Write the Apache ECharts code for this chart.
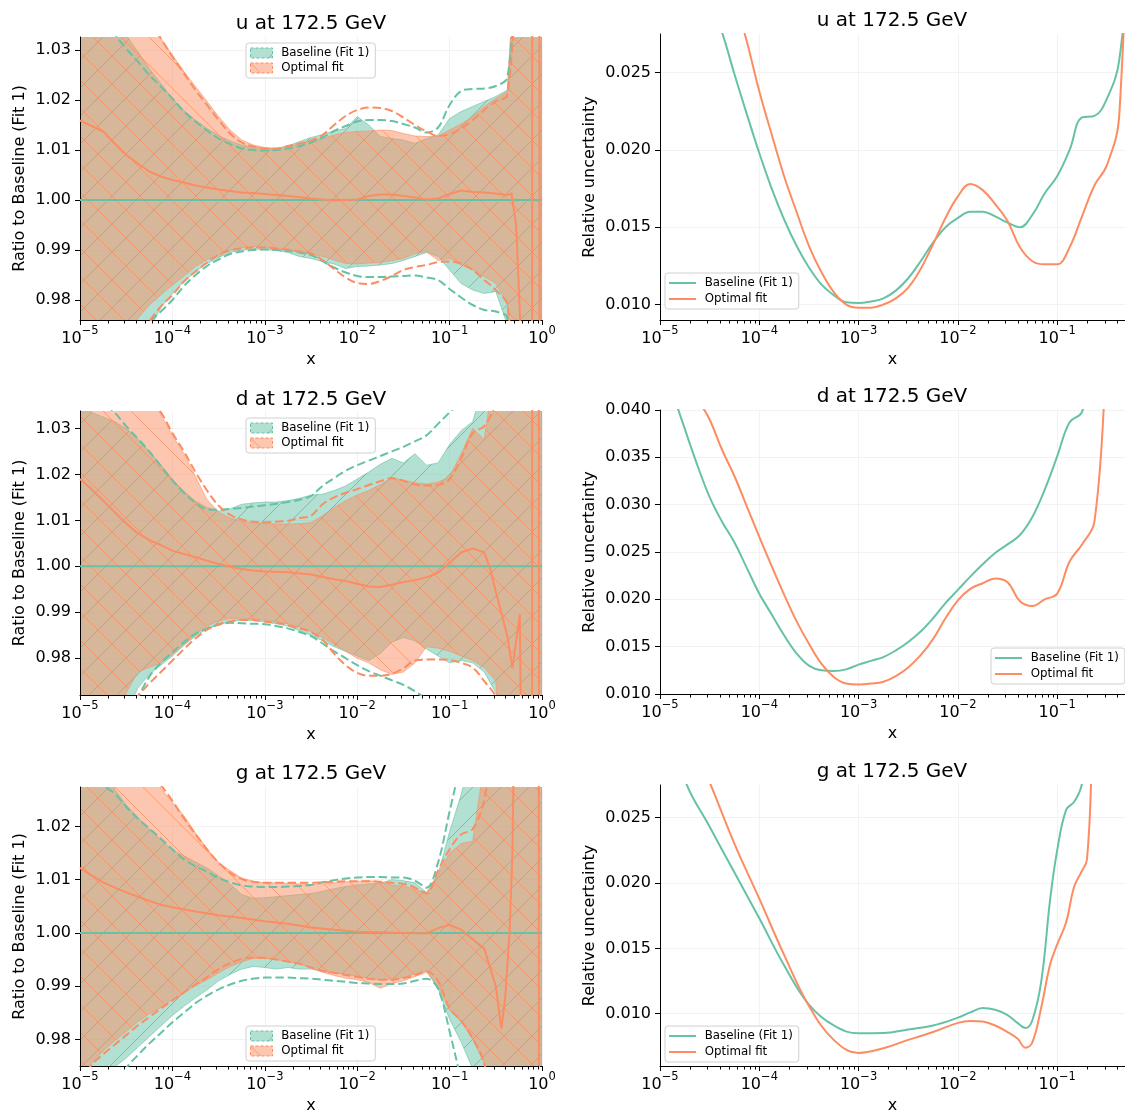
<!DOCTYPE html>
<html><head><meta charset="utf-8">
<script src="https://cdn.jsdelivr.net/npm/echarts@6/dist/echarts.min.js"></script>
<style>html,body{margin:0;padding:0;background:#fff}#c{width:1125px;height:1115px}</style>
</head><body><div id="c"></div>
<script>
// ---------- DATA (x given as log10(x)) ----------
const LX = [-5,-4.875,-4.75,-4.625,-4.5,-4.375,-4.25,-4.125,-4,-3.875,-3.75,-3.625,-3.5,-3.375,-3.25,-3.125,-3,-2.875,-2.75,-2.625,-2.5,-2.375,-2.25,-2.125,-2,-1.875,-1.75,-1.625,-1.5,-1.375,-1.25,-1.125,-1,-0.875,-0.75,-0.625,-0.5,-0.375,-0.25,-0.125,0];

// u : ratio to baseline
const U_B_HI = [1.06,1.06,1.05,1.04,1.033,1.0297,1.0263,1.0233,1.0203,1.0179,1.016,1.0143,1.0129,1.0118,1.011,1.0105,1.0103,1.0103,1.0108,1.0117,1.0125,1.0131,1.0138,1.0143,1.0167,1.015,1.0127,1.0123,1.012,1.0113,1.0123,1.013,1.0163,1.0177,1.0187,1.0197,1.0207,1.022,1.06,1.06,1.06];
const U_B_LO = [0.94,0.94,0.94,0.94,0.94,0.94,0.974,0.9785,0.9813,0.9837,0.9857,0.9873,0.9885,0.9895,0.99,0.9902,0.9901,0.9899,0.9895,0.9887,0.9883,0.9877,0.9872,0.9863,0.9867,0.9868,0.987,0.9873,0.9879,0.9887,0.9895,0.9887,0.986,0.9833,0.982,0.9813,0.9817,0.975,0.94,0.94,0.94];
const U_O_HI = [1.06,1.06,1.06,1.06,1.06,1.06,1.038,1.0323,1.029,1.0257,1.0227,1.0197,1.0167,1.014,1.012,1.011,1.0105,1.0103,1.0107,1.0112,1.0119,1.0123,1.013,1.0135,1.0137,1.0138,1.014,1.0139,1.0133,1.0128,1.0127,1.0128,1.014,1.0152,1.0167,1.0187,1.0203,1.0217,1.06,1.06,1.06];
const U_O_LO = [0.94,0.94,0.94,0.94,0.965,0.9763,0.979,0.981,0.983,0.9848,0.9867,0.9881,0.989,0.99,0.9905,0.9907,0.9905,0.9903,0.99,0.9897,0.9892,0.9887,0.988,0.9873,0.9872,0.9874,0.9875,0.9879,0.9883,0.9893,0.9897,0.9879,0.9883,0.987,0.986,0.9847,0.9833,0.9793,0.94,0.94,0.94];
const U_B_DHI = [1.05,1.046,1.041,1.0335,1.0303,1.0277,1.025,1.0227,1.0203,1.0177,1.0157,1.0139,1.0123,1.0112,1.0103,1.01,1.0099,1.01,1.0103,1.0108,1.0115,1.0125,1.0138,1.0148,1.0157,1.016,1.016,1.0158,1.0152,1.0145,1.0135,1.0145,1.019,1.0218,1.0222,1.0223,1.0228,1.0245,1.05,1.06,1.06];
const U_B_DLO = [0.95,0.955,0.96,0.965,0.968,0.972,0.9755,0.9777,0.98,0.9828,0.985,0.9868,0.9881,0.9892,0.9897,0.99,0.9901,0.99,0.9898,0.9895,0.989,0.9878,0.9865,0.9855,0.9848,0.9846,0.9846,0.9847,0.9848,0.9849,0.9845,0.984,0.9822,0.9805,0.979,0.978,0.9777,0.9765,0.95,0.94,0.94];
const U_O_DHI = [1.05,1.05,1.05,1.05,1.05,1.04,1.036,1.0323,1.0287,1.0253,1.022,1.019,1.016,1.0133,1.0115,1.0107,1.0103,1.0103,1.0108,1.0113,1.0119,1.013,1.015,1.0168,1.018,1.0185,1.0184,1.0178,1.0165,1.015,1.0137,1.0128,1.0132,1.0143,1.016,1.018,1.0197,1.021,1.05,1.06,1.06];
const U_O_DLO = [0.95,0.955,0.96,0.965,0.968,0.972,0.9757,0.9787,0.981,0.9837,0.9857,0.9875,0.989,0.9899,0.9903,0.9905,0.9905,0.9903,0.9901,0.9897,0.9893,0.988,0.9862,0.9845,0.9834,0.9832,0.9838,0.9848,0.986,0.9866,0.987,0.9876,0.9877,0.9873,0.986,0.984,0.982,0.979,0.95,0.94,0.94];
const U_C_X = [-5,-4.875,-4.75,-4.625,-4.5,-4.375,-4.25,-4.125,-4,-3.875,-3.75,-3.625,-3.5,-3.375,-3.25,-3.125,-3,-2.75,-2.5,-2.25,-2,-1.875,-1.75,-1.625,-1.5,-1.375,-1.25,-1.125,-1,-0.875,-0.75,-0.625,-0.5,-0.375,-0.33,-0.28,-0.2,-0.107,-0.105,-0.028,-0.026,0];
const U_C_Y = [1.0159,1.0148,1.0137,1.0113,1.009,1.0073,1.0057,1.0047,1.004,1.0035,1.0029,1.0025,1.0021,1.0018,1.0015,1.0014,1.0012,1.0008,1.0003,0.9999,1.0001,1.0008,1.0011,1.0011,1.0008,1.0005,1.0001,1.0003,1.0012,1.0019,1.0016,1.0015,1.0013,1.001,1.0013,0.995,0.96,0.96,1.06,1.06,0.96,0.96];

// d : ratio to baseline
const D_B_HI = [1.038,1.0335,1.0325,1.0315,1.03,1.0277,1.025,1.0221,1.019,1.0163,1.0142,1.0128,1.012,1.0125,1.0135,1.0138,1.014,1.014,1.0143,1.0148,1.0155,1.0157,1.0165,1.0175,1.019,1.0205,1.0222,1.0235,1.0225,1.0245,1.022,1.0225,1.0265,1.0295,1.0315,1.04,1.06,1.06,1.06,1.06,1.06];
const D_B_LO = [0.94,0.94,0.94,0.94,0.968,0.9735,0.9765,0.9785,0.9805,0.9828,0.9848,0.9864,0.9873,0.988,0.9883,0.9882,0.9879,0.9875,0.987,0.986,0.985,0.9838,0.9825,0.9815,0.9805,0.9795,0.981,0.9835,0.9845,0.9838,0.982,0.9805,0.979,0.9795,0.979,0.977,0.9725,0.95,0.94,0.94,0.94];
const D_O_HI = [1.06,1.06,1.06,1.06,1.06,1.06,1.04,1.033,1.0285,1.0245,1.0195,1.0145,1.0118,1.0105,1.0098,1.0095,1.0093,1.0092,1.0092,1.0093,1.0095,1.011,1.0128,1.0143,1.0155,1.0165,1.0178,1.0192,1.0188,1.0182,1.0179,1.0183,1.0195,1.0245,1.03,1.0276,1.045,1.06,1.06,1.06,1.06];
const D_O_LO = [0.94,0.94,0.94,0.94,0.9725,0.977,0.978,0.979,0.9808,0.983,0.9852,0.987,0.9881,0.9887,0.9885,0.9886,0.9883,0.988,0.9875,0.9868,0.9858,0.9845,0.983,0.9815,0.98,0.979,0.9775,0.9765,0.977,0.979,0.9825,0.9822,0.9815,0.9805,0.9795,0.978,0.975,0.94,0.94,0.94,0.94];
const D_B_DHI = [1.05,1.045,1.036,1.0335,1.0305,1.0278,1.025,1.0218,1.0187,1.016,1.0138,1.0124,1.0123,1.0125,1.0127,1.013,1.0133,1.0136,1.014,1.0145,1.0153,1.0175,1.0192,1.0208,1.022,1.023,1.024,1.025,1.026,1.0272,1.0285,1.031,1.0335,1.036,1.04,1.06,1.06,1.06,1.06,1.06,1.06];
const D_B_DLO = [0.95,0.955,0.96,0.965,0.968,0.9715,0.976,0.979,0.9813,0.9835,0.9853,0.9865,0.9873,0.9877,0.9876,0.9875,0.9874,0.987,0.9865,0.9857,0.9848,0.9832,0.9815,0.98,0.9785,0.9772,0.9762,0.9752,0.9742,0.9728,0.971,0.968,0.965,0.96,0.955,0.95,0.95,0.95,0.95,0.95,0.95];
const D_O_DHI = [1.06,1.06,1.06,1.06,1.06,1.06,1.036,1.0335,1.029,1.025,1.0205,1.0165,1.0132,1.0112,1.0102,1.0097,1.0096,1.0097,1.0099,1.0105,1.011,1.0135,1.015,1.016,1.0168,1.0177,1.0185,1.0192,1.0186,1.0178,1.0176,1.0177,1.019,1.0235,1.029,1.0305,1.036,1.06,1.06,1.06,1.06];
const D_O_DLO = [0.95,0.955,0.96,0.965,0.968,0.9718,0.9745,0.977,0.9795,0.982,0.9843,0.9862,0.9874,0.988,0.9883,0.9883,0.988,0.9877,0.9872,0.9865,0.9857,0.984,0.981,0.9785,0.9768,0.9762,0.9762,0.9766,0.9778,0.9795,0.9797,0.9797,0.9796,0.979,0.978,0.975,0.9715,0.96,0.95,0.95,0.95];
const D_C_X = [-5,-4.875,-4.75,-4.625,-4.5,-4.375,-4.25,-4.125,-4,-3.875,-3.75,-3.625,-3.5,-3.375,-3.25,-3.125,-3,-2.75,-2.5,-2.375,-2.25,-2.125,-2,-1.875,-1.75,-1.625,-1.5,-1.375,-1.25,-1.125,-1,-0.875,-0.75,-0.625,-0.56,-0.5,-0.375,-0.32,-0.24,-0.225,-0.107,-0.105,-0.035,-0.033,0];
const D_C_Y = [1.019,1.0168,1.0143,1.0118,1.0093,1.0072,1.0057,1.0046,1.0034,1.0027,1.002,1.0012,1.0005,0.9999,0.9994,0.9991,0.9989,0.9987,0.9982,0.9977,0.9972,0.9968,0.9962,0.9956,0.9955,0.996,0.9966,0.997,0.9976,0.9986,1.0008,1.003,1.0039,1.003,0.9995,0.9945,0.9848,0.9778,0.9896,0.96,0.96,1.06,1.06,0.96,0.96];

// g : ratio to baseline
const G_B_HI = [1.045,1.04,1.033,1.027,1.024,1.0217,1.0195,1.0175,1.0155,1.0145,1.0133,1.0122,1.0107,1.0092,1.0072,1.0065,1.0066,1.0068,1.007,1.0072,1.0074,1.0078,1.0083,1.0087,1.009,1.0092,1.0093,1.01,1.0098,1.0094,1.0076,1.011,1.019,1.026,1.035,1.06,1.06,1.06,1.06,1.06,1.06];
const G_B_LO = [0.94,0.94,0.94,0.9748,0.9765,0.9785,0.9805,0.9825,0.9845,0.9862,0.9878,0.9893,0.991,0.9922,0.9932,0.9937,0.9935,0.9932,0.9935,0.9932,0.9932,0.9928,0.9925,0.9922,0.9919,0.9914,0.9912,0.9913,0.9916,0.9923,0.9929,0.9895,0.9838,0.9795,0.9745,0.96,0.94,0.94,0.94,0.94,0.94];
const G_O_HI = [1.06,1.06,1.06,1.06,1.06,1.06,1.031,1.0272,1.0245,1.022,1.0188,1.0158,1.0132,1.0117,1.0103,1.0097,1.0094,1.0094,1.0093,1.0092,1.0091,1.0092,1.0094,1.0096,1.0097,1.0098,1.0096,1.009,1.0088,1.0082,1.0074,1.011,1.015,1.0168,1.0172,1.032,1.06,1.06,1.06,1.06,1.06];
const G_O_LO = [0.965,0.9755,0.9778,0.9797,0.9815,0.9833,0.9848,0.986,0.9875,0.9888,0.9901,0.9912,0.9925,0.9937,0.9946,0.9952,0.9952,0.995,0.9946,0.9942,0.9934,0.9926,0.992,0.9915,0.9912,0.9907,0.9896,0.9905,0.991,0.9918,0.9926,0.99,0.9855,0.9833,0.98,0.9755,0.94,0.94,0.94,0.94,0.94];
const G_B_DHI = [1.045,1.036,1.028,1.0262,1.0237,1.0215,1.0196,1.0177,1.0157,1.0138,1.0125,1.0115,1.0103,1.0095,1.0089,1.0087,1.0086,1.0086,1.0087,1.0088,1.009,1.0095,1.0099,1.0102,1.0104,1.0105,1.0105,1.0104,1.0104,1.0098,1.0085,1.0132,1.0228,1.032,1.04,1.06,1.06,1.06,1.06,1.06,1.06];
const G_B_DLO = [0.95,0.955,0.96,0.968,0.9745,0.977,0.9792,0.9812,0.9832,0.985,0.9868,0.9882,0.9894,0.9903,0.991,0.9914,0.9916,0.9916,0.9916,0.9915,0.9914,0.9912,0.991,0.9908,0.9906,0.9905,0.9904,0.9904,0.9905,0.991,0.9914,0.9895,0.9815,0.972,0.96,0.95,0.95,0.95,0.95,0.95,0.95];
const G_O_DHI = [1.06,1.06,1.06,1.06,1.06,1.06,1.031,1.0278,1.0248,1.0215,1.0185,1.0157,1.0132,1.0113,1.0101,1.0096,1.0094,1.0094,1.0094,1.0094,1.0094,1.0095,1.0096,1.0097,1.0097,1.0097,1.0096,1.0094,1.0092,1.0085,1.0074,1.0117,1.0157,1.0185,1.0195,1.025,1.04,1.06,1.06,1.06,1.06];
const G_O_DLO = [0.972,0.9752,0.9772,0.979,0.9808,0.9826,0.9842,0.9858,0.9873,0.9888,0.9903,0.9917,0.9932,0.9943,0.9951,0.9954,0.9953,0.995,0.9946,0.9942,0.9935,0.9929,0.9925,0.9921,0.9917,0.9914,0.9912,0.9912,0.9915,0.992,0.9928,0.991,0.9858,0.9835,0.9802,0.9755,0.965,0.95,0.95,0.95,0.95];
const G_C_X = [-5,-4.875,-4.75,-4.625,-4.5,-4.375,-4.25,-4.125,-4,-3.75,-3.5,-3.25,-3,-2.75,-2.5,-2.25,-2,-1.75,-1.5,-1.25,-1.125,-1,-0.875,-0.75,-0.625,-0.5,-0.44,-0.4,-0.35,-0.32,-0.3,-0.035,-0.033,0];
const G_C_Y = [1.0122,1.0108,1.0095,1.0085,1.0076,1.0068,1.006,1.0053,1.0048,1.004,1.0033,1.0028,1.0022,1.0017,1.001,1.0006,1.0002,1.0001,1.0,0.9999,1.0009,1.0015,1.0006,0.9988,0.997,0.99,0.982,0.9875,1.0005,1.015,1.04,1.04,0.96,0.96];

// relative uncertainty
const RX = [-5,-4.875,-4.75,-4.625,-4.5,-4.375,-4.25,-4.125,-4,-3.875,-3.75,-3.625,-3.5,-3.375,-3.25,-3.125,-3,-2.875,-2.75,-2.625,-2.5,-2.375,-2.25,-2.125,-2,-1.875,-1.75,-1.625,-1.5,-1.375,-1.25,-1.125,-1,-0.875,-0.75,-0.625,-0.5,-0.375,-0.25];
const UR_B = [0.040,0.037,0.0345,0.032,0.0297,0.0276,0.0249,0.0223,0.0198,0.0175,0.0155,0.0138,0.0124,0.0113,0.0106,0.01015,0.0101,0.0102,0.0104,0.0109,0.0117,0.0128,0.0140,0.0150,0.0156,0.0160,0.0160,0.0157,0.0153,0.0150,0.0158,0.0172,0.0183,0.0200,0.0221,0.0222,0.0233,0.0258,0.035];
const UR_O = [0.045,0.042,0.0395,0.0368,0.0345,0.0322,0.0298,0.0270,0.0238,0.0210,0.0183,0.0160,0.0138,0.0121,0.0108,0.0100,0.0098,0.0098,0.0100,0.0104,0.0111,0.0123,0.0139,0.0156,0.0170,0.0178,0.0174,0.0165,0.0154,0.0137,0.0128,0.0126,0.0126,0.0137,0.0157,0.0177,0.0190,0.0222,0.045];
const DR_B = [0.047,0.042,0.038,0.0342,0.0308,0.0282,0.026,0.0233,0.0206,0.0184,0.0162,0.0143,0.013,0.0125,0.01243,0.0126,0.0131,0.0135,0.0139,0.0146,0.0155,0.0166,0.018,0.0196,0.021,0.0224,0.0237,0.0249,0.0258,0.0268,0.0287,0.0316,0.0351,0.0387,0.0398,0.046,0.06,0.07,0.08];
const DR_O = [0.058,0.052,0.047,0.0415,0.039,0.0358,0.033,0.0298,0.0266,0.0235,0.0205,0.0177,0.0153,0.0132,0.0118,0.0111,0.011,0.0111,0.0113,0.0119,0.0128,0.0141,0.0158,0.018,0.0199,0.0211,0.0217,0.0222,0.0218,0.0198,0.0193,0.02,0.0206,0.024,0.0258,0.0282,0.045,0.06,0.08];
const GR_X = [-5,-4.75,-4.5,-4.25,-4,-3.75,-3.5,-3.25,-3,-2.75,-2.5,-2.25,-2,-1.875,-1.75,-1.625,-1.5,-1.4,-1.32,-1.25,-1.16,-1.07,-1,-0.91,-0.83,-0.76,-0.7,-0.65,-0.6];
const GR_B = [0.035,0.0279,0.0243,0.0208,0.0173,0.0137,0.0107,0.0091,0.0085,0.00852,0.0088,0.0091,0.0097,0.0101,0.01043,0.0103,0.0099,0.0093,0.0089,0.0095,0.0125,0.0188,0.0225,0.0256,0.0262,0.0273,0.030,0.034,0.04];
const GR_O = [0.040,0.032,0.0277,0.023,0.0188,0.0145,0.0106,0.008,0.007,0.00736,0.008,0.0086,0.0093,0.00945,0.0094,0.0091,0.0086,0.0081,0.0074,0.0078,0.0105,0.0138,0.0153,0.017,0.0197,0.0208,0.0218,0.030,0.045];

const TITLES = ['u at 172.5 GeV', 'd at 172.5 GeV', 'g at 172.5 GeV'];
const NAME_B = 'Baseline (Fit 1)', NAME_O = 'Optimal fit';
const LEFT_TICKS = [[0.98,0.99,1.00,1.01,1.02,1.03],[0.98,0.99,1.00,1.01,1.02,1.03],[0.98,0.99,1.00,1.01,1.02]];
const RIGHT_TICKS = [[0.010,0.015,0.020,0.025],[0.010,0.015,0.020,0.025,0.030,0.035,0.040],[0.010,0.015,0.020,0.025]];
const X_TICKS_L = [1e-5,1e-4,1e-3,1e-2,1e-1,1];
const X_TICKS_R = [1e-5,1e-4,1e-3,1e-2,1e-1];

// ---------- STYLE / LAYOUT ----------
const TEAL = '#66c2a5', ORANGE = '#fc8d62', FONT = 'DejaVu Sans';
const LAYOUT = [
  {left: 80, top: 37, width: 462, height: 283, ymin: 0.976, ymax: 1.0326, xmax: 1},
  {left: 660, top: 34, width: 465, height: 286, ymin: 0.009, ymax: 0.0275, xmax: 0.482},
  {left: 80, top: 411, width: 462, height: 284, ymin: 0.972, ymax: 1.0338, xmax: 1},
  {left: 660, top: 410, width: 465, height: 284, ymin: 0.010, ymax: 0.040, xmax: 0.482},
  {left: 80, top: 787, width: 462, height: 283, ymin: 0.975, ymax: 1.0274, xmax: 1},
  {left: 660, top: 785, width: 465, height: 285, ymin: 0.006, ymax: 0.0275, xmax: 0.482}
];
const TITLE_POS = [[311, 14], [892, 11], [311, 390], [892, 387], [311, 764], [892, 762]];
const LEGEND_POS = [[246, 43], [665, 273], [246, 418], [991, 648], [246, 1026], [665, 1026]];

function hatch(fill, line, dir) {
  const S = 28, c = document.createElement('canvas');
  c.width = S; c.height = S;
  const g = c.getContext('2d');
  g.fillStyle = fill; g.fillRect(0, 0, S, S);
  g.strokeStyle = line; g.lineWidth = 1;
  g.beginPath();
  if (dir === '/') {
    g.moveTo(-2, S + 2); g.lineTo(S + 2, -2);
    g.moveTo(-2, 2); g.lineTo(2, -2);
    g.moveTo(S - 2, S + 2); g.lineTo(S + 2, S - 2);
  } else {
    g.moveTo(-2, -2); g.lineTo(S + 2, S + 2);
    g.moveTo(S - 2, -2); g.lineTo(S + 2, 2);
    g.moveTo(-2, S - 2); g.lineTo(2, S + 2);
  }
  g.stroke();
  return {image: c, repeat: 'repeat'};
}
const B_FILL = hatch('rgba(102,194,165,0.5)', 'rgba(80,160,135,0.55)', '/');
const O_FILL = hatch('rgba(252,141,98,0.5)', 'rgba(252,141,98,0.75)', '\\');

const pw = v => Math.pow(10, v);
const xy = (xs, ys) => xs.map((lx, i) => [pw(lx), ys[i]]);

function band(name, g, lo, hi, fill, stroke, z) {
  const data = LX.map((lx, i) => [pw(lx), lo[i], hi[i]]);
  return {
    type: 'custom', name, xAxisIndex: g, yAxisIndex: g, z, silent: true, clip: true,
    data, encode: {x: 0, y: [1, 2]},
    renderItem(params, api) {
      if (params.dataIndex !== 0) return null;
      const up = [], dn = [];
      for (const d of data) { up.push(api.coord([d[0], d[2]])); dn.push(api.coord([d[0], d[1]])); }
      const cs = params.coordSys;
      return {
        type: 'polygon', shape: {points: up.concat(dn.reverse())},
        style: {fill, stroke, lineWidth: 1},
        clipPath: {type: 'rect', shape: {x: cs.x + 1, y: cs.y, width: cs.width - 1, height: cs.height}}
      };
    }
  };
}
function line(name, g, data, color, dashed, z, smooth) {
  return {
    type: 'line', name, xAxisIndex: g, yAxisIndex: g, z, silent: true, showSymbol: false, symbol: 'none',
    smooth: smooth || false, clip: true, data,
    lineStyle: {color, width: 2, type: dashed ? [8.5, 3.8] : 'solid', cap: 'butt'}
  };
}
function minorTicks(g) {
  const L = LAYOUT[g], vals = [];
  for (let e = -5; e < 0; e++) for (let k = 2; k <= 9; k++) { const v = k * pw(e); if (v <= L.xmax) vals.push([v, L.ymin]); }
  return {
    type: 'custom', name: 'minor' + g, xAxisIndex: g, yAxisIndex: g, silent: true, clip: false, z: 6,
    data: vals, encode: {x: 0, y: 1},
    renderItem(params, api) {
      const p = api.coord([api.value(0), api.value(1)]);
      const x = Math.round(p[0]) + 0.5;
      return {type: 'line', shape: {x1: x, y1: p[1], x2: x, y2: p[1] + 3.5}, style: {stroke: '#000', lineWidth: 1}};
    }
  };
}
const expLabel = v => {
  const e = Math.round(Math.log10(v));
  return '{b|10}{s|' + (e < 0 ? '\u2212' + (-e) : String(e)) + '}';
};
const RICH = {
  b: {fontSize: 16, fontFamily: FONT, color: '#000', lineHeight: 22, verticalAlign: 'bottom'},
  s: {fontSize: 11.5, fontFamily: FONT, color: '#000', lineHeight: 12, verticalAlign: 'top'}
};

const grid = [], xAxis = [], yAxis = [], series = [], title = [], legend = [];
for (let g = 0; g < 6; g++) {
  const L = LAYOUT[g], isLeft = g % 2 === 0, row = Math.floor(g / 2);
  grid.push({left: L.left, top: L.top, width: L.width, height: L.height, containLabel: false});
  const xt = isLeft ? X_TICKS_L : X_TICKS_R;
  xAxis.push({
    gridIndex: g, type: 'log', logBase: 10, min: 1e-5, max: L.xmax,
    axisLine: {show: true, onZero: false, lineStyle: {color: '#000', width: 1}},
    axisTick: {show: true, length: 5, customValues: xt, lineStyle: {color: '#000', width: 1}},
    axisLabel: {customValues: xt, formatter: expLabel, rich: RICH, margin: 5},
    splitLine: {show: true, lineStyle: {color: '#f2f2f2', width: 1}},
    minorTick: {show: false},
    name: 'x', nameLocation: 'middle', nameGap: 32,
    nameTextStyle: {fontSize: 16, fontFamily: FONT, color: '#000'}
  });
  const yt = isLeft ? LEFT_TICKS[row] : RIGHT_TICKS[row];
  yAxis.push({
    gridIndex: g, type: 'value', min: L.ymin, max: L.ymax, scale: true,
    axisLine: {show: true, onZero: false, lineStyle: {color: '#000', width: 1}},
    axisTick: {show: true, length: 5, customValues: yt, lineStyle: {color: '#000', width: 1}},
    axisLabel: {customValues: yt, formatter: v => v.toFixed(isLeft ? 2 : 3), fontSize: 16, fontFamily: FONT, color: '#000', margin: 9},
    splitLine: {show: true, lineStyle: {color: '#f2f2f2', width: 1}},
    name: isLeft ? 'Ratio to Baseline (Fit 1)' : 'Relative uncertainty',
    nameLocation: 'middle', nameGap: isLeft ? 52 : 62,
    nameTextStyle: {fontSize: 16, fontFamily: FONT, color: '#000'}
  });
  title.push({
    text: TITLES[row], left: TITLE_POS[g][0], top: TITLE_POS[g][1], textAlign: 'center', padding: 0,
    textStyle: {fontSize: 20, fontWeight: 'normal', fontFamily: FONT, color: '#000'}
  });
  const lg = {
    left: LEGEND_POS[g][0], top: LEGEND_POS[g][1], orient: 'vertical', selectedMode: false,
    padding: [4, 6, 4, 4], backgroundColor: 'rgba(255,255,255,0.8)', borderColor: '#d0d0d0', borderWidth: 1, borderRadius: 3,
    textStyle: {fontFamily: FONT, fontSize: 11.8, color: '#000'}
  };
  if (isLeft) {
    Object.assign(lg, {itemWidth: 22, itemHeight: 10, itemGap: 3, formatter: ' {name}', data: [
      {name: NAME_B, icon: 'rect', itemStyle: {color: B_FILL, borderColor: TEAL, borderWidth: 1, borderType: [3, 2]}},
      {name: NAME_O, icon: 'rect', itemStyle: {color: O_FILL, borderColor: ORANGE, borderWidth: 1, borderType: [3, 2]}}
    ]});
  } else {
    Object.assign(lg, {itemWidth: 27, itemHeight: 2, itemGap: 4, formatter: ' {name}', data: [
      {name: NAME_B, icon: 'rect', itemStyle: {color: TEAL, borderWidth: 0}},
      {name: NAME_O, icon: 'rect', itemStyle: {color: ORANGE, borderWidth: 0}}
    ]});
  }
  legend.push(lg);
  series.push(minorTicks(g));
}

const LEFT_SETS = [
  [U_B_LO, U_B_HI, U_O_LO, U_O_HI, U_B_DLO, U_B_DHI, U_O_DLO, U_O_DHI, U_C_X, U_C_Y],
  [D_B_LO, D_B_HI, D_O_LO, D_O_HI, D_B_DLO, D_B_DHI, D_O_DLO, D_O_DHI, D_C_X, D_C_Y],
  [G_B_LO, G_B_HI, G_O_LO, G_O_HI, G_B_DLO, G_B_DHI, G_O_DLO, G_O_DHI, G_C_X, G_C_Y]
];
LEFT_SETS.forEach((s, row) => {
  const g = row * 2;
  series.push(band(NAME_B, g, s[0], s[1], B_FILL, 'rgba(102,194,165,0.6)', 2));
  series.push(band(NAME_O, g, s[2], s[3], O_FILL, 'rgba(252,141,98,0.6)', 2));
  series.push(line('bd_hi' + g, g, xy(LX, s[5]), TEAL, true, 3, 0.35));
  series.push(line('bd_lo' + g, g, xy(LX, s[4]), TEAL, true, 3, 0.35));
  series.push(line('od_hi' + g, g, xy(LX, s[7]), ORANGE, true, 3, 0.35));
  series.push(line('od_lo' + g, g, xy(LX, s[6]), ORANGE, true, 3, 0.35));
  series.push(line('bc' + g, g, [[1e-5, 1], [1, 1]], TEAL, false, 4));
  series.push(line('oc' + g, g, xy(s[8], s[9]), ORANGE, false, 4, false));
});
const RIGHT_SETS = [[RX, UR_B, UR_O], [RX, DR_B, DR_O], [GR_X, GR_B, GR_O]];
RIGHT_SETS.forEach((s, row) => {
  const g = row * 2 + 1;
  series.push(line(NAME_B, g, xy(s[0], s[1]), TEAL, false, 3, 0.4));
  series.push(line(NAME_O, g, xy(s[0], s[2]), ORANGE, false, 3, 0.4));
});

const chart = echarts.init(document.getElementById('c'), null, {renderer: 'canvas'});
chart.setOption({animation: false, backgroundColor: '#fff', textStyle: {fontFamily: FONT}, grid, xAxis, yAxis, title, legend, series});
</script>
</body></html>
